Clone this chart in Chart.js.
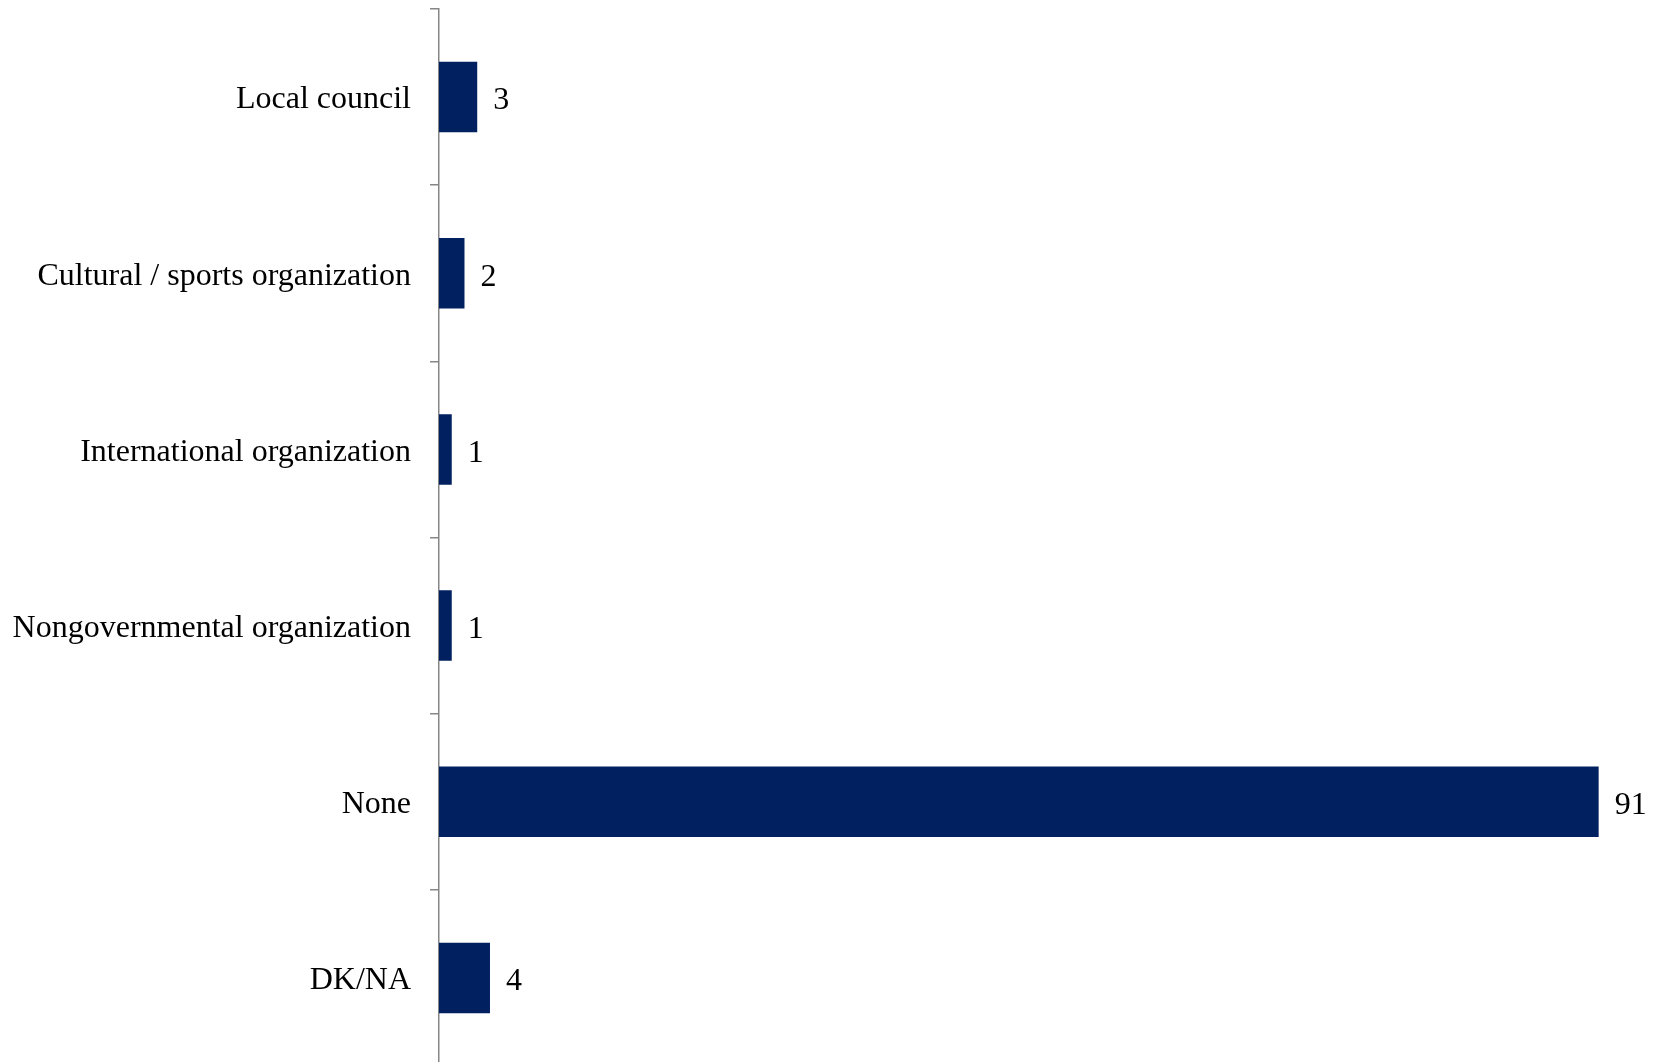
<!DOCTYPE html>
<html>
<head>
<meta charset="utf-8">
<script src="https://cdn.jsdelivr.net/npm/chart.js@4"></script>
<style>
html,body{margin:0;padding:0;background:#fff;overflow:hidden;}
#wrap{position:relative;width:1656px;height:1066px;}
</style>
</head>
<body>
<div id="wrap"><canvas id="c"></canvas></div>
<script>
const categories = ["Local council", "Cultural / sports organization", "International organization", "Nongovernmental organization", "None", "DK/NA"];
const values = [3, 2, 1, 1, 91, 4];

const valueLabels = {
  id: 'valueLabels',
  afterDatasetsDraw(chart) {
    const ctx = chart.ctx;
    const meta = chart.getDatasetMeta(0);
    ctx.save();
    ctx.font = '32px "Liberation Serif", "Times New Roman", serif';
    ctx.fillStyle = '#000';
    ctx.textAlign = 'left';
    ctx.textBaseline = 'middle';
    meta.data.forEach((bar, i) => {
      ctx.fillText(String(values[i]), bar.x + 16, bar.y + 4);
    });
    ctx.restore();
  }
};

new Chart(document.getElementById('c'), {
  type: 'bar',
  data: {
    labels: categories,
    datasets: [{
      data: values,
      backgroundColor: '#00205F',
      borderWidth: 0,
      categoryPercentage: 1.0,
      barPercentage: 0.4
    }]
  },
  options: {
    indexAxis: 'y',
    responsive: true,
    maintainAspectRatio: false,
    animation: false,
    layout: { padding: { left: 0, right: 0, top: 9, bottom: 0 } },
    plugins: { legend: { display: false }, tooltip: { enabled: false } },
    scales: {
      x: {
        display: false,
        min: 0,
        max: 95.5
      },
      y: {
        afterFit(scale) { scale.width = 439; scale.paddingTop = 0; scale.paddingBottom = 0; },
        border: { display: true, color: '#868686', width: 1.5 },
        grid: { display: true, drawOnChartArea: false, drawTicks: true, tickLength: 9, color: '#868686', lineWidth: 1.5, offset: true },
        ticks: {
          color: '#000',
          padding: 19,
          labelOffset: 3,
          font: { family: '"Liberation Serif", "Times New Roman", serif', size: 32 }
        }
      }
    }
  },
  plugins: [valueLabels]
});
</script>
</body>
</html>
